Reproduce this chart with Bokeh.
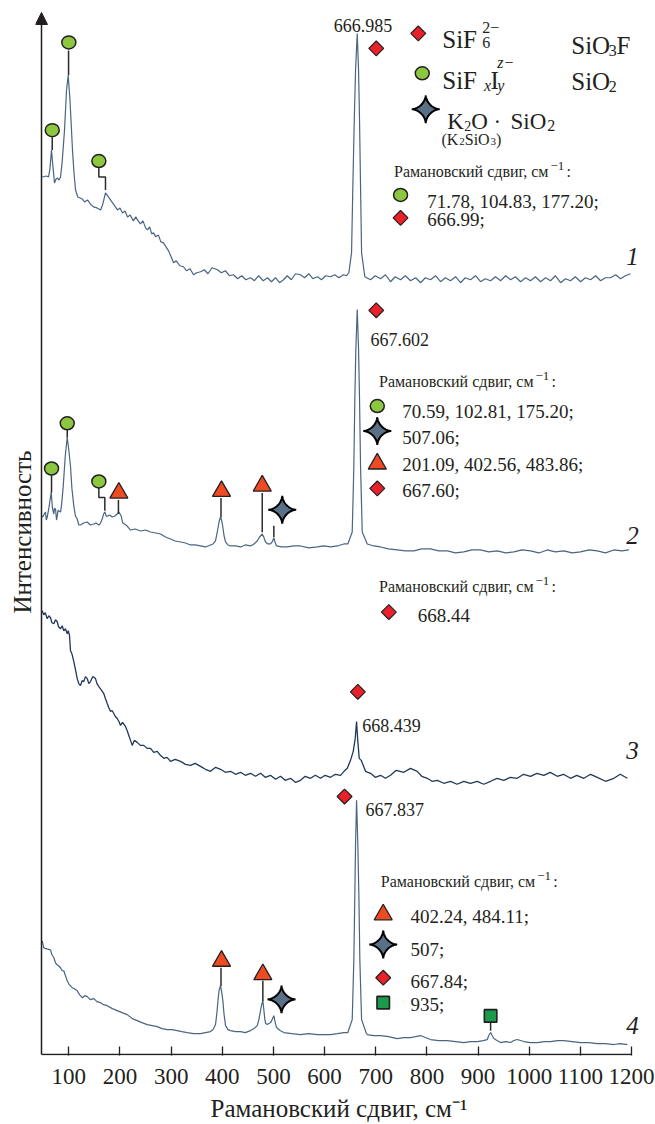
import numpy as np
from bokeh.plotting import figure
from bokeh.models import Range1d, FixedTicker, Arrow, NormalHead, ColumnDataSource
from bokeh.embed import file_html
from bokeh.resources import INLINE
from bokeh.core.properties import value

# ---------------- data ----------------
tick_values = [100, 200, 300, 400, 500, 600, 700, 800, 900, 1000, 1100, 1200]

# spectrum 1 (offset intensity, a.u.)
s1_x = [48.0, 56, 60.3, 63, 66.2, 68.5, 72.0, 75, 77.9, 81, 83.8, 87, 91.6, 95.5, 98.8, 102.3, 107.2, 110, 113.1, 117.6,
        122, 126, 131, 136.6, 142, 148.3, 155, 162.0, 166, 171.7, 176, 181.5, 187, 195.2, 200, 205, 210, 214.8, 220, 226,
        231, 234.3, 240, 245, 250, 253.9, 258, 262, 265.6, 270, 275, 280, 285.1, 290, 295, 300, 304.7, 310, 317, 324.2,
        330, 337, 343.8, 350, 357.5, 365, 372, 380, 390.7, 398, 406, 414, 422.0, 430, 438, 446, 455.2, 463, 471, 480,
        488.5, 496, 504, 512, 519.7, 527, 535, 543, 553.0, 561, 569, 577, 586.2, 594, 602, 611.6, 620, 628, 637.0, 643,
        647.4, 652.7, 655.2, 658.0, 660.5, 663.8, 666.4, 668.3, 670.3, 672.3, 678.7, 689.8, 699, 709.4, 719, 728.9, 738,
        748.5, 758, 768.0, 778, 787.6, 797, 807.1, 817, 826.7, 836, 846.2, 856, 865.8, 875, 885.3, 895, 904.9, 914, 924.5,
        934, 944.0, 954, 963.5, 973, 983.1, 993, 1002.6, 1012, 1022.2, 1032, 1041.7, 1051, 1061.3, 1071, 1080.8, 1090,
        1100.4, 1110, 1120.0, 1130, 1139.5, 1149, 1159.0, 1169, 1178.6, 1188, 1198.1]
s1_y = [880, 881, 880, 888, 907, 893, 874, 878, 879, 877, 880, 895, 927, 967, 982, 957, 907, 885, 867, 860,
        859, 858, 855, 857, 853, 850, 849, 847, 852, 864, 861, 857, 853, 847, 849, 844, 846, 840, 842, 836,
        840, 837, 833, 836, 829, 827, 830, 823, 824, 820, 822, 815, 814, 810, 806, 800, 794, 796, 791, 790,
        786, 788, 782, 784, 785, 787, 783, 789, 787, 784, 786, 781, 782, 778, 781, 777, 779, 776, 781, 776,
        779, 775, 779, 774, 777, 781, 777, 783, 782, 779, 783, 778, 780, 777, 781, 780, 782, 779, 782, 781,
        784, 804, 870, 937, 987, 1024, 987, 937, 870, 804, 780, 777, 781, 778, 782, 775, 780,
        777, 781, 776, 779, 774, 779, 777, 781, 775, 779, 776, 780, 774, 779, 777, 781, 775, 778, 776,
        780, 776, 781, 777, 780, 775, 779, 776, 780, 775, 779, 776, 781, 774, 778, 776, 780,
        775, 779, 777, 781, 776, 779, 779, 782, 778, 781, 783]

# spectrum 2
s2_x = [48.0, 49.2, 52, 54.4, 56, 57.8, 61, 65.6, 68, 70.7, 72, 74.0, 76, 77.3, 79, 80.4, 83.8, 86, 89.1, 93, 96.9, 100,
        103.3, 106, 109.8, 113, 116.4, 119.5, 122.9, 129, 136.0, 142, 148.9, 153, 158.7, 162, 165.3, 168, 170.4, 173,
        176.2, 180, 184.8, 190, 194.6, 198, 202.4, 205.5, 208.9, 214.2, 220.6, 230, 240.2, 250, 259.7, 270, 279.3, 289,
        298.8, 308, 318.4, 328, 337.9, 347, 357.5, 367, 377.0, 382, 386.8, 391.3, 394, 396.6, 399, 401.1, 403.5, 406.4,
        411, 416.1, 426, 435.7, 445, 455.2, 462, 468.3, 473, 478.1, 481, 484.6, 489, 494.3, 497.5, 500.8, 503, 506.1,
        516, 527.0, 540, 553.0, 569, 585.6, 598, 611.6, 625, 637.6, 645.4, 654.0, 657.2, 659.1, 661.1, 663.8, 666.4,
        668.3, 670.3, 673.6, 683.4, 696, 709.4, 725, 742.0, 758, 774.5, 790, 807.1, 823, 839.8, 856, 872.2, 888, 904.9,
        921, 937.5, 954, 970.0, 986, 1002.6, 1019, 1035.3, 1051, 1067.7, 1084, 1100.4, 1117, 1133.0, 1149, 1165.5,
        1181, 1194.8]
s2_y = [540, 539, 542, 544, 536, 539, 548, 564, 548, 542, 548, 547, 536, 540, 546, 545, 544, 552, 570, 600, 619, 606,
        590, 568, 550, 540, 537, 531, 531, 533, 534, 531, 532, 533, 531, 533, 537, 542, 544, 540,
        540, 541, 539, 540, 542, 544, 540, 533, 532, 530, 526, 527, 525, 526, 524, 523, 522, 519,
        517, 515, 514, 513, 511, 511, 510, 509, 511, 512, 515, 527, 535, 539, 535, 529, 520, 514,
        511, 510, 510, 509, 511, 510, 512, 515, 519, 522, 519, 514, 512, 512, 514, 518, 514, 510,
        509, 509, 510, 510, 508, 509, 510, 509, 510, 512, 512, 524, 590, 657, 707, 747, 707,
        657, 590, 524, 512, 510, 509, 507, 506, 505, 505, 507, 507, 505, 505, 503, 504, 506, 506,
        504, 505, 503, 504, 506, 505, 503, 506, 504, 505, 503, 504, 506, 505, 503, 506,
        505, 506]

# spectrum 3
s3_x = [48.0, 51, 54, 57.8, 61, 64.2, 67, 70.7, 74, 77.3, 80, 83.8, 87, 90.2, 93.5, 96.9, 99, 101.4, 103.3, 106, 109.8,
        113, 116.4, 119.5, 122.9, 126, 129.3, 132.5, 136.0, 139, 142.4, 147, 152.2, 155, 158.7, 163, 168.4, 171.5, 175.1,
        178, 181.5, 184.5, 188.0, 191, 194.6, 198, 201.1, 205, 210.8, 214, 217.3, 220.6, 223.9, 228, 233.7, 240, 246.6,
        253, 259.7, 266, 272.8, 279, 285.7, 292, 298.8, 308, 318.4, 328, 337.9, 347, 357.5, 367, 377.0, 387, 396.6, 406,
        416.1, 426, 435.7, 445, 455.2, 465, 474.8, 484, 494.3, 504, 513.9, 523, 533.4, 543, 553.0, 562, 572.5, 582, 592.1,
        601, 611.6, 621, 631.2, 638, 644.3, 650.7, 656.0, 659.9, 662.5, 665.0, 667.7, 671.6, 675.5, 680.0, 689.8, 699,
        709.4, 719, 728.9, 740, 754.9, 768, 781.1, 790, 800.7, 810, 820.2, 833, 846.2, 859, 872.2, 885, 898.4, 911, 924.5,
        937, 950.4, 963, 976.6, 989, 1002.6, 1015, 1028.6, 1041, 1054.8, 1067, 1080.8, 1093, 1106.8, 1120, 1133.0, 1149,
        1165.5, 1178, 1191.7]
s3_y = [445, 441, 443, 437, 440, 438, 433, 432, 436, 434, 429, 427, 430, 425, 427, 422, 425, 420, 405, 402, 394,
        386, 377, 372, 370, 375, 374, 379, 377, 372, 374, 379, 377, 372, 369, 366, 362, 357, 352,
        348, 344, 345, 342, 339, 337, 334, 330, 333, 329, 325, 320, 315, 310, 315, 313, 310, 310,
        307, 307, 303, 304, 300, 297, 298, 294, 296, 294, 291, 290, 292, 289, 286, 284, 288, 286, 283,
        284, 281, 283, 280, 282, 279, 282, 278, 280, 276, 279, 275, 277, 273, 275, 279, 277, 280, 277,
        280, 278, 281, 280, 284, 287, 295, 304, 317, 334, 314, 297, 295, 290, 284, 282, 278,
        280, 277, 280, 285, 283, 287, 284, 279, 277, 274, 275, 272, 274, 271, 274, 272, 274, 271, 274,
        277, 275, 278, 277, 281, 279, 282, 280, 283, 279, 281, 277, 280, 277, 281, 278, 274,
        277, 281, 277]

# spectrum 4
s4_x = [48.0, 51.1, 57, 64.2, 67, 70.7, 74, 77.3, 80, 83.8, 87, 90.2, 93.5, 96.9, 101, 106.6, 111, 116.4, 121, 126.2,
        131, 136.0, 142, 148.9, 155, 162.0, 168, 175.1, 185, 194.6, 204, 214.2, 224, 233.7, 243, 253.3, 263, 272.8, 282,
        292.4, 302, 311.9, 321, 331.5, 344, 357.5, 367, 377.0, 382, 386.8, 389.5, 392.1, 394, 396.6, 399, 401.1, 403.5,
        406.4, 411, 416.1, 426, 435.7, 445, 455.2, 462, 468.3, 471.5, 474.8, 477, 479.3, 481, 483.2, 485, 487.9, 491,
        494.3, 497.5, 500.8, 503.5, 506.1, 513, 520.3, 536, 553.0, 569, 585.6, 598, 611.6, 625, 637.6, 645.4, 654.0,
        657.2, 659.1, 660.5, 662.5, 665.0, 667.0, 668.9, 672.3, 681, 683.4, 696, 709.4, 725, 742.0, 755, 768.0, 778,
        787.6, 797, 807.1, 823, 839.8, 856, 872.2, 885, 898.4, 910, 918.0, 921, 924.5, 927.5, 930.9, 937, 944.0, 954,
        963.5, 970, 976.6, 983, 989.5, 1002, 1015.7, 1029, 1041.7, 1055, 1067.7, 1084, 1100.4, 1117, 1133.0, 1149,
        1165.5, 1178, 1191.7]
s4_y = [114, 107, 106, 105, 100, 97, 92, 90, 89, 87, 84, 84, 79, 74, 70, 67, 66, 64, 60, 57,
        59, 58, 55, 56, 53, 52, 50, 49, 46, 44, 42, 40, 36, 34, 32, 30, 29, 28, 26,
        25, 25, 24, 23, 22, 21, 21, 22, 23, 25, 30, 42, 57, 65, 69, 62, 54, 40,
        29, 25, 24, 23, 23, 22, 24, 26, 29, 35, 44, 50, 54, 46, 35, 31, 30, 31,
        32, 35, 39, 32, 27, 24, 22, 21, 20, 21, 20, 20, 20, 21, 22, 22, 35,
        95, 160, 210, 255, 210, 160, 95, 35, 22, 20, 19, 19, 18, 16, 17, 17, 18,
        19, 17, 15, 14, 14, 13, 12, 13, 13, 14, 15, 19, 22, 19, 16, 14, 12, 13,
        12, 14, 15, 14, 13, 12, 12, 13, 13, 14, 14, 13, 12, 12, 11, 11,
        10, 11, 10]

# band markers (position x in cm^-1, y in offset intensity)
circle_x = [67.6, 100.0, 158.7, 66.2, 96.9, 158.7, 790.9, 748.5, 703.0]
circle_y = [927, 1015, 896, 587.7, 633, 574.7, 984, 862, 650.3]
diamond_x = [701.0, 783.1, 748.5, 701.0, 703.0, 725.6, 665.0, 639.0, 714.6]
diamond_y = [1009, 1024, 839, 746.3, 567.7, 443.7, 363.7, 258.7, 77]
triangle_x = [197.8, 398.5, 478.1, 703.0, 398.5, 479.3, 714.6]
triangle_y = [563.2, 564.9, 570.3, 592.4, 93.7, 80.3, 140.3]
square_x = [714.6, 924.5]
square_y = [52, 38.7]
star_x = [797.7, 517.2, 703.0, 515.8, 714.6]
star_y = [948, 546.3, 625.3, 55.3, 110.3]

# leader lines from markers to bands
stem_xs = [[67.6, 67.6], [99.5, 99.5], [158.7, 158.7, 171.7, 171.7],
           [66.2, 66.2], [96.9, 96.9], [158.7, 158.7, 170.4, 170.4], [197.0, 197.0],
           [397.5, 397.5], [478.1, 478.1], [500.8, 500.8],
           [397.5, 397.5], [479.3, 479.3], [924.5, 924.5]]
stem_ys = [[920, 907], [1007, 982], [890, 880, 880, 867],
           [582, 563.7], [627, 618.7], [569, 558.7, 558.7, 545.3], [556, 542],
           [558, 538.7], [563, 523.7], [530.3, 518.7],
           [87, 68.7], [74, 53.7], [32, 23.7]]

# ---------------- figure geometry ----------------
W, H = 655, 1124
FL, FR, FT = 35, 13, 8
FW = W - FL - FR
FH = 1050
FB = H - FT - FH
SX = 100 / 51.155            # x data units per screen pixel
AX0, AX1 = 46.6, 1200.0      # extent of the drawn x axis
X0 = AX0 - 6 * SX
X1 = X0 + FW * SX
FONT = "Liberation Serif"
INK = "#231f20"
LINE = "#4a6482"

p = figure(width=W, height=H, x_range=Range1d(X0, X1), y_range=Range1d(-1, FH - 1),
           output_backend="svg", toolbar_location=None,
           min_border_left=FL, min_border_right=FR, min_border_top=FT, min_border_bottom=FB)
p.xgrid.visible = False
p.ygrid.visible = False
p.outline_line_color = None
p.background_fill_color = "white"

ax = p.xaxis[0]
ax.ticker = FixedTicker(ticks=tick_values)
ax.major_tick_in = 9
ax.major_tick_out = 0
ax.minor_tick_in = 0
ax.minor_tick_out = 0
ax.axis_line_color = None
ax.major_tick_line_color = INK
ax.major_tick_line_width = 1.3
ax.major_label_text_font = FONT
ax.major_label_text_font_size = "23px"
ax.major_label_text_color = INK
ax.major_label_standoff = 13
ax.axis_label = "Рамановский сдвиг, см⁻¹"
ax.axis_label_text_font = FONT
ax.axis_label_text_font_size = "25px"
ax.axis_label_text_font_style = "normal"
ax.axis_label_text_color = INK
ax.axis_label_standoff = 8

ay = p.yaxis[0]
ay.ticker = FixedTicker(ticks=[])
ay.axis_line_color = None
ay.major_tick_in = 0
ay.major_tick_out = 0
ay.minor_tick_in = 0
ay.minor_tick_out = 0
ay.major_label_standoff = 0
ay.axis_label = "Интенсивность"
ay.axis_label_text_font = FONT
ay.axis_label_text_font_size = "25px"
ay.axis_label_text_font_style = "normal"
ay.axis_label_text_color = INK
ay.axis_label_standoff = 0

# drawn x axis line (ends at the last tick) and y axis arrow
p.segment(x0=[AX0], y0=[0], x1=[AX1], y1=[0], line_color=INK, line_width=1.5)
p.add_layout(Arrow(end=NormalHead(size=12, fill_color=INK, line_color=INK),
                   x_start=AX0, y_start=0, x_end=AX0, y_end=1045,
                   line_color=INK, line_width=1.5))

# spectra
p.line(s1_x, s1_y, line_color=LINE, line_width=1.2)
p.line(s2_x, s2_y, line_color=LINE, line_width=1.2)
p.line(s3_x, s3_y, line_color="#22385a", line_width=1.3)
p.line(s4_x, s4_y, line_color=LINE, line_width=1.2)

# leader lines
p.multi_line(stem_xs, stem_ys, line_color="#2b2b2b", line_width=1.5)

# markers
p.ellipse(x=circle_x, y=circle_y, width=14, height=13, width_units="screen", height_units="screen",
          fill_color="#8dc63f", line_color=INK, line_width=1.5)
p.scatter(x=diamond_x, y=diamond_y, marker="square", angle=np.pi / 4, size=10.5,
          fill_color="#e8212b", line_color=INK, line_width=1.2)
p.scatter(x=triangle_x, y=triangle_y, marker="triangle", size=18,
          fill_color="#ef4b23", line_color=INK, line_width=1.3)
p.scatter(x=square_x, y=square_y, marker="square", size=12.5,
          fill_color="#1b9a4b", line_color=INK, line_width=1.6)

# four-pointed stars (shape built around each centre)
t = np.linspace(0, 2 * np.pi, 97)
c, s = np.cos(t), np.sin(t)
ux = np.sign(c) * np.abs(c) ** 3.3
uy = np.sign(s) * np.abs(s) ** 3.3
R = 14
star_xs = [list(cx + R * ux * SX) for cx in star_x]
star_ys = [list(cy + R * uy) for cy in star_y]
p.patches(star_xs, star_ys, fill_color="#5a7087", line_color="black", line_width=2.0)


def texts(items, size, style="normal", align="left"):
    src = ColumnDataSource(dict(x=[i[0] for i in items], y=[i[1] for i in items], t=[i[2] for i in items]))
    p.text(x="x", y="y", text="t", source=src, text_font=value(FONT), text_font_size=value(size),
           text_font_style=style, text_align=align, text_baseline="alphabetic", text_color=INK)


# peak labels
texts([(618.1, 1032, "666.985"), (689.8, 717, "667.602"), (673.6, 330.3, "668.439"),
       (680.0, 245.3, "667.837")], "18px")

# legend formulas
texts([(830.0, 1017.7, "SiF"), (1082.2, 1012, "SiO"), (1170.8, 1012, "F"),
       (830.0, 977, "SiF"), (924.4, 977, "I"), (1082.2, 975.3, "SiO")], "25px")
texts([(839.8, 935.3, "K"), (886.5, 935.3, "O"), (930.3, 935.3, "·"), (963.5, 935.3, "SiO")], "23px")
texts([(908.2, 1015.3, "6"), (908.2, 1030.3, "2−"), (1155.7, 1007, "3"), (1155.7, 971, "2"),
       (1035.3, 931.5, "2")], "16px")
texts([(872.8, 931.5, "2")], "14px")
texts([(911.6, 972, "x"), (937.5, 971.5, "y"), (937.5, 995.3, "z−")], "16px", "italic")
texts([(828.6, 918, "(K"), (874.0, 918, "SiO"), (935.2, 918, ")")], "16px")
texts([(863.0, 915.5, "2"), (924.4, 915.5, "3")], "11px")

# band lists
texts([(800.7, 855.3, "71.78, 104.83, 177.20;"), (800.7, 837, "666.99;"),
       (751.8, 645.3, "70.59, 102.81, 175.20;"), (751.8, 618.7, "507.06;"),
       (751.8, 592, "201.09, 402.56, 483.86;"), (751.8, 565.3, "667.60;"),
       (782.3, 440.3, "668.44"),
       (768.0, 138.7, "402.24, 484.11;"), (768.0, 105.3, "507;"), (768.0, 73.7, "667.84;"),
       (768.0, 50.3, "935;")], "19px")

# "Рамановский сдвиг, см−1:" headers
heads = [(735.7, 886), (706.4, 675.3), (706.4, 469.7), (709.8, 173.7)]
texts([(hx, hy, "Рамановский сдвиг, см") for hx, hy in heads], "16px")
texts([(hx + 156.5 * SX, hy + 5.5, "−1") for hx, hy in heads], "13px")
texts([(hx + 172.5 * SX, hy, ":") for hx, hy in heads], "16px")

# curve numbers
texts([(1202, 800.3, "1"), (1202, 520.3, "2"), (1202, 305.3, "3"), (1202, 28.7, "4")],
      "25px", "italic", "center")

open("out.html", "w").write(file_html(p, INLINE))
